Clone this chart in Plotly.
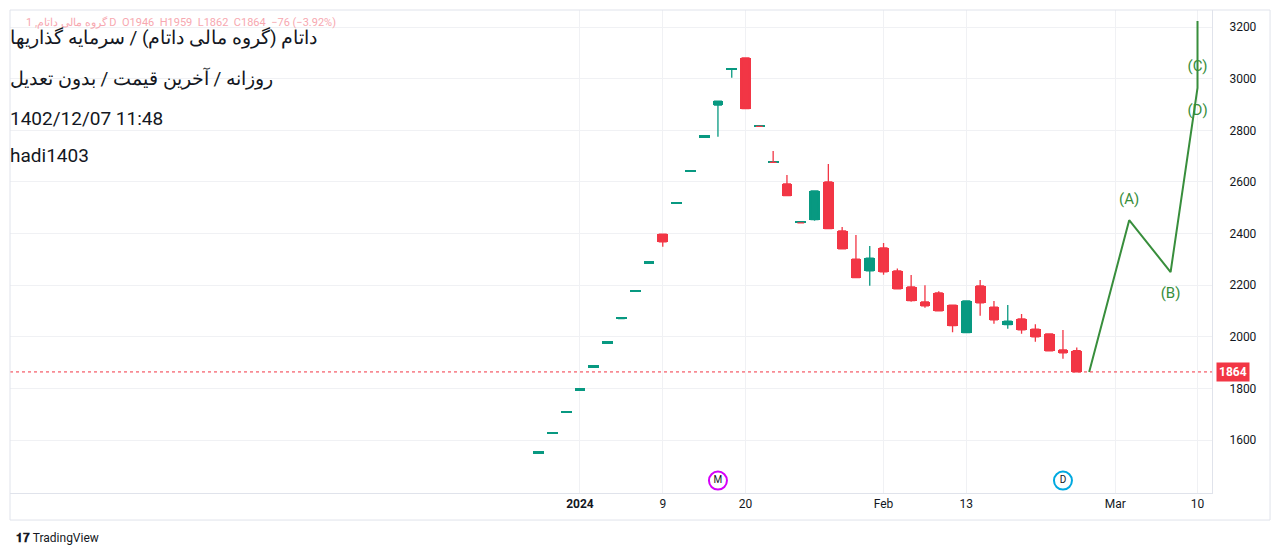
import plotly.graph_objects as go

# candle data (daily bars, index positions)
bar_index = list(range(40))
opens = [1549, 1626, 1707, 1793, 1882, 1975, 2071, 2176, 2285, 2398,
         2517, 2641, 2773, 2898, 3036, 3080, 2815, 2676, 2592, 2441,
         2454, 2600, 2410, 2301, 2256, 2344, 2255, 2193, 2135, 2170,
         2123, 2016, 2197, 2115, 2047, 2069, 2030, 2011, 1949, 1946]
highs = [1549, 1626, 1707, 1793, 1882, 1975, 2071, 2176, 2285, 2398,
         2517, 2641, 2773, 2913, 3036, 3080, 2815, 2720, 2627, 2441,
         2565, 2669, 2425, 2394, 2352, 2363, 2265, 2239, 2200, 2177,
         2123, 2139, 2220, 2139, 2123, 2088, 2049, 2011, 2026, 1959]
lows = [1549, 1626, 1707, 1793, 1882, 1975, 2071, 2176, 2285, 2349,
        2517, 2641, 2773, 2775, 3004, 2884, 2815, 2676, 2547, 2441,
        2450, 2419, 2341, 2229, 2198, 2240, 2186, 2136, 2113, 2101,
        2018, 2016, 2082, 2051, 2031, 2012, 1981, 1946, 1915, 1862]
closes = [1549, 1626, 1707, 1793, 1882, 1975, 2071, 2176, 2285, 2368,
          2517, 2641, 2773, 2913, 3036, 2884, 2815, 2676, 2547, 2441,
          2565, 2419, 2341, 2229, 2305, 2252, 2186, 2140, 2120, 2101,
          2043, 2139, 2132, 2066, 2061, 2027, 2000, 1946, 1938, 1864]

# elliott wave projection
wave_x = [39.9, 42.8, 45.8, 47.75, 47.75]
wave_y = [1864, 2452, 2251, 2964, 3223]
wave_labels = ["(A)", "(B)", "(C)", "(D)"]
wave_label_x = [42.8, 45.8, 47.75, 47.75]
wave_label_y = [2530, 2165, 3045, 2875]

tick_pos = [3, 9, 15, 25, 31, 41.8, 47.75]
tick_text = ["<b>2024</b>", "9", "20", "Feb", "13", "Mar", "10"]
last_price = 1864

UP, DOWN = "#089981", "#F23645"
colors = [UP if c >= o else DOWN for o, c in zip(opens, closes)]
body_base = [min(o, c) for o, c in zip(opens, closes)]
body_h = [max(abs(o - c), 7) for o, c in zip(opens, closes)]

fig = go.Figure()
# wicks
fig.add_trace(go.Candlestick(
    x=bar_index, open=opens, high=highs, low=lows, close=closes,
    increasing=dict(line=dict(color=UP, width=1.3), fillcolor=UP),
    decreasing=dict(line=dict(color=DOWN, width=1.3), fillcolor=DOWN),
    whiskerwidth=0, showlegend=False, hoverinfo="skip"))
# bodies
fig.add_trace(go.Bar(x=bar_index, y=body_h, base=body_base, width=0.78,
                     marker=dict(color=colors, line=dict(width=0)),
                     showlegend=False, hoverinfo="skip"))
fig.add_trace(go.Scatter(x=wave_x, y=wave_y, mode="lines",
                         line=dict(color="#388E3C", width=2), showlegend=False))
fig.add_trace(go.Scatter(x=wave_label_x, y=wave_label_y, mode="text", text=wave_labels,
                         textfont=dict(color="#388E3C", size=15, family="Roboto"),
                         showlegend=False))

# event markers
fig.add_trace(go.Scatter(x=[13, 38], y=[1443, 1443], mode="markers+text", text=["M", "D"],
                         textposition="middle center",
                         textfont=dict(size=10, color="#131722", family="Roboto"),
                         marker=dict(symbol="circle-open", size=18,
                                     line=dict(width=2), color=["#D500F9", "#00A9E0"]),
                         showlegend=False))

# last price line
fig.add_hline(y=last_price, line=dict(color=DOWN, width=1, dash="dot"))
fig.add_annotation(x=1.0, xref="paper", xanchor="left", xshift=4, y=last_price,
                   text="<b>1864</b>", showarrow=False, bgcolor=DOWN,
                   font=dict(color="white", size=12, family="Roboto"), borderpad=2)

# header text
fig.add_annotation(x=0.012, y=1.0, xref="paper", yref="paper", xanchor="left", yanchor="middle",
                   yshift=-12, showarrow=False,
                   text="1 ,گروه مالی داتام D  O1946  H1959  L1862  C1864  −76 (−3.92%)",
                   font=dict(size=11, color="#F7A8B0", family="Roboto"))
head = ["داتام (گروه مالی داتام) / سرمایه گذاریها", "روزانه / آخرین قیمت / بدون تعدیل",
        "1402/12/07 11:48", "hadi1403"]
for t, yy in zip(head, [37, 78, 118, 155]):
    fig.add_annotation(x=0, y=1, xref="paper", yref="paper", xanchor="left", yanchor="middle",
                       xshift=-2, yshift=-(yy - 10), text=t, showarrow=False,
                       font=dict(size=19, color="#131722", family="Roboto"))

fig.add_annotation(x=0, y=0, xref="paper", yref="paper", xanchor="left", yanchor="middle",
                   xshift=4, yshift=-45, text="<b>𝟏𝟕</b> TradingView", showarrow=False,
                   font=dict(size=12, color="#131722", family="Roboto"))

# frame
fig.add_shape(type="rect", xref="paper", yref="paper", x0=0, x1=1.0483, y0=-0.056, y1=1,
              line=dict(color="#E0E3EB", width=1))

fig.update_layout(
    width=1264, height=540, margin=dict(l=2, r=60, t=2, b=55),
    paper_bgcolor="white", plot_bgcolor="white", bargap=0,
    font=dict(family="Roboto", color="#131722", size=12),
    xaxis=dict(range=[-38.3, 48.8], tickvals=tick_pos, ticktext=tick_text,
               showgrid=True, gridcolor="#F0F1F4", zeroline=False, ticks="",
               rangeslider=dict(visible=False), showline=True, linecolor="#E0E3EB",
               tickfont=dict(size=12)),
    yaxis=dict(range=[1395, 3266], side="right", tickvals=list(range(1600, 3201, 200)),
               showgrid=True, gridcolor="#F0F1F4", zeroline=False, showline=True,
               linecolor="#E0E3EB", tickfont=dict(size=12), ticklabelstandoff=14),
)

fig.write_html("out.html")
